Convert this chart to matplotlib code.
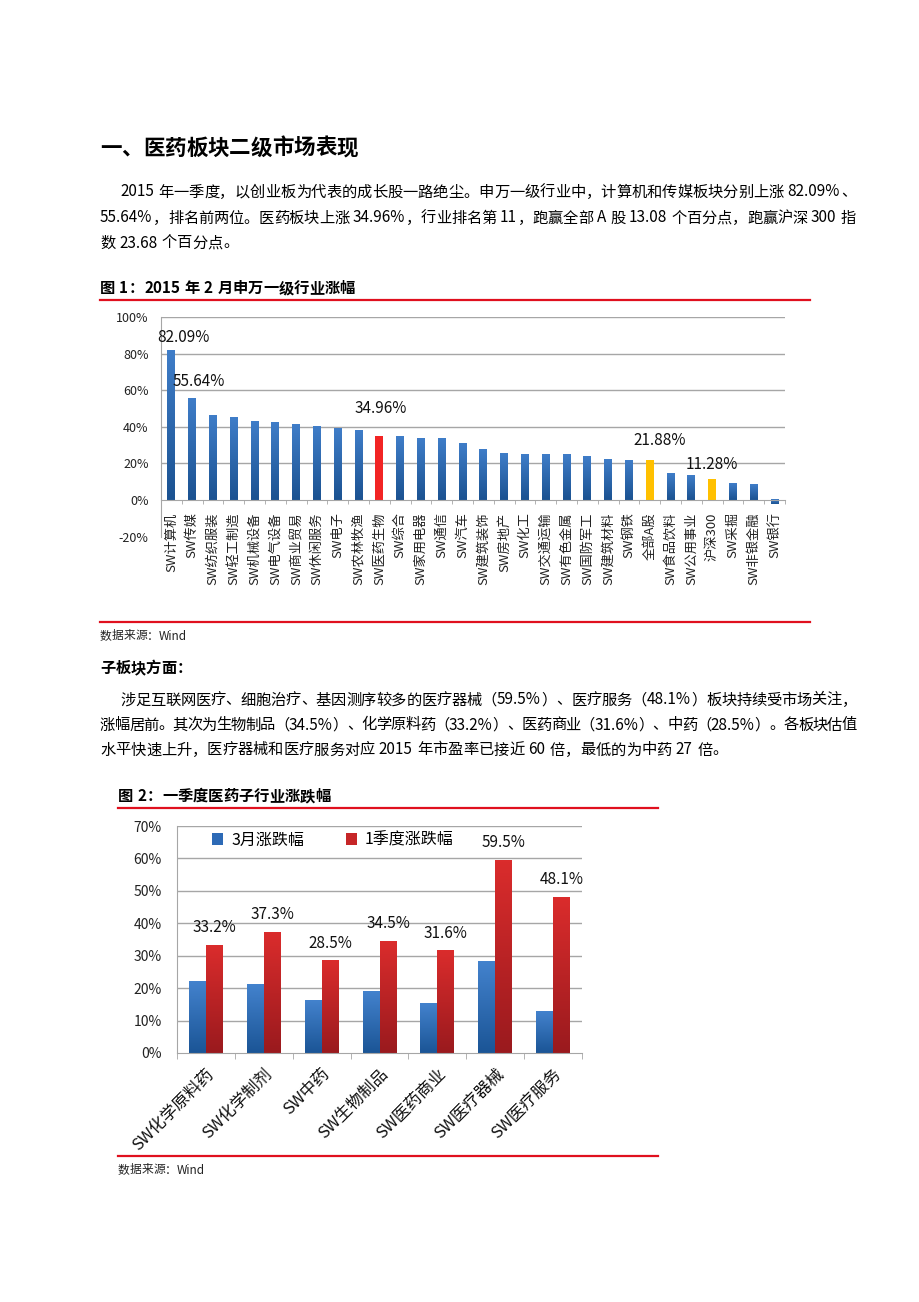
import matplotlib
matplotlib.use('Agg')
import matplotlib.pyplot as plt
import numpy as np
from matplotlib.font_manager import FontProperties
from matplotlib.colors import LinearSegmentedColormap

plt.rcParams['font.family'] = ['Noto Sans CJK SC', 'DejaVu Sans']

# ---------------- data ----------------
industries = ['SW计算机', 'SW传媒', 'SW纺织服装', 'SW轻工制造', 'SW机械设备', 'SW电气设备',
              'SW商业贸易', 'SW休闲服务', 'SW电子', 'SW农林牧渔', 'SW医药生物', 'SW综合',
              'SW家用电器', 'SW通信', 'SW汽车', 'SW建筑装饰', 'SW房地产', 'SW化工',
              'SW交通运输', 'SW有色金属', 'SW国防军工', 'SW建筑材料', 'SW钢铁', '全部A股',
              'SW食品饮料', 'SW公用事业', '沪深300', 'SW采掘', 'SW非银金融', 'SW银行']
feb_change = [82.09, 55.64, 46.5, 45.4, 43.2, 42.2, 41.6, 40.0, 38.9, 38.3, 34.96, 34.5,
              33.9, 33.5, 30.8, 27.5, 25.3, 24.8, 24.8, 24.8, 23.7, 22.0, 21.8, 21.88,
              14.3, 13.2, 11.28, 8.8, 8.3, -2.3]
red_items = ['SW医药生物']
gold_items = ['全部A股', '沪深300']
labeled_items = ['SW计算机', 'SW传媒', 'SW医药生物', '全部A股', '沪深300']
y1_ticks = [-20, 0, 20, 40, 60, 80, 100]

sub_industries = ['SW化学原料药', 'SW化学制剂', 'SW中药', 'SW生物制品', 'SW医药商业',
                  'SW医疗器械', 'SW医疗服务']
march_change = [22.1, 21.1, 16.1, 19.0, 15.2, 28.2, 12.7]
q1_change = [33.2, 37.3, 28.5, 34.5, 31.6, 59.5, 48.1]
series_names = ['3月涨跌幅', '1季度涨跌幅']
y2_ticks = [0, 10, 20, 30, 40, 50, 60, 70]

# ---------------- page ----------------
W, H = 920, 1302
fig = plt.figure(figsize=(W / 100, H / 100), dpi=100)
fig.patch.set_facecolor('white')
renderer = fig.canvas.get_renderer()
FAM = ['Noto Sans CJK SC', 'DejaVu Sans']


def fx(x):
    return x / W


def fy(y):
    return 1 - y / H


def tokenize(s):
    out, buf = [], ''
    for ch in s:
        if ch == ' ':
            if buf:
                out.append(buf)
                buf = ''
            out.append(' ')
        elif ord(ch) < 128:
            buf += ch
        else:
            if buf:
                out.append(buf)
                buf = ''
            out.append(ch)
    if buf:
        out.append(buf)
    return out


def draw_line(x0, y, s, size, x1=None, weight='normal', color='black'):
    prop = FontProperties(family=FAM, size=size, weight=weight)
    em = size * 100 / 72
    toks = tokenize(s)
    widths = []
    for t in toks:
        if t == ' ':
            widths.append(0.25 * em)
        elif ord(t[0]) >= 128:
            widths.append(em)
        else:
            w, h, d = renderer.get_text_width_height_descent(t, prop, ismath=False)
            widths.append(w + 0.05 * em)
    total = sum(widths)
    gap = 0.0
    if x1 is not None and len(toks) > 1:
        gap = (x1 - x0 - total) / (len(toks) - 1)
    x = x0
    for t, w in zip(toks, widths):
        if t != ' ':
            fig.text(fx(x), fy(y), t, fontproperties=prop, va='center', ha='left', color=color)
        x += w + gap


def red_rule(x0, x1, y):
    fig.add_artist(plt.Line2D([fx(x0), fx(x1)], [fy(y), fy(y)], color='#e0101e', lw=1.6))


def gradient_bars(ax, bars, top_color, bottom_color):
    cmap = LinearSegmentedColormap.from_list('g', [bottom_color, top_color])
    grad = np.linspace(0, 1, 64).reshape(-1, 1)
    for b in bars:
        x0, y0 = b.get_x(), b.get_y()
        w, h = b.get_width(), b.get_height()
        lo, hi = min(y0, y0 + h), max(y0, y0 + h)
        ax.imshow(grad, extent=[x0, x0 + w, lo, hi], origin='lower', aspect='auto',
                  cmap=cmap, zorder=3.5, interpolation='bilinear')


# heading
draw_line(100, 148, '一、医药板块二级市场表现', 15.5, weight='bold')

# paragraph 1
draw_line(120, 192, '2015 年一季度，以创业板为代表的成长股一路绝尘。申万一级行业中，计算机和传媒板块分别上涨 82.09%、', 11, x1=856)
draw_line(100, 218, '55.64%，排名前两位。医药板块上涨 34.96%，行业排名第 11，跑赢全部 A 股 13.08 个百分点，跑赢沪深 300 指', 11, x1=856)
draw_line(100, 243, '数 23.68 个百分点。', 11)

# figure 1 caption
draw_line(100, 288, '图 1：2015 年 2 月申万一级行业涨幅', 11, weight='bold')
red_rule(100, 810, 300)
red_rule(100, 810, 622)
draw_line(100, 636, '数据来源：Wind', 8.5, color='#222222')

# paragraph 2
draw_line(100, 668, '子板块方面：', 11, weight='bold')
draw_line(120, 700, '涉足互联网医疗、细胞治疗、基因测序较多的医疗器械（59.5%）、医疗服务（48.1%）板块持续受市场关注，', 11, x1=857)
draw_line(100, 725, '涨幅居前。其次为生物制品（34.5%）、化学原料药（33.2%）、医药商业（31.6%）、中药（28.5%）。各板块估值', 11, x1=857)
draw_line(100, 750, '水平快速上升，医疗器械和医疗服务对应 2015 年市盈率已接近 60 倍，最低的为中药 27 倍。', 11)

# figure 2 caption
draw_line(118, 796, '图 2：一季度医药子行业涨跌幅', 11, weight='bold')
red_rule(118, 658, 808)
red_rule(118, 658, 1156)
draw_line(118, 1170, '数据来源：Wind', 8.5, color='#222222')

# ---------------- chart 1 ----------------
ax1 = fig.add_axes([fx(161), fy(536.5), 624 / W, 219.2 / H])
n = len(industries)
xs = np.arange(n)
colors = []
for name in industries:
    if name in red_items:
        colors.append('#f22424')
    elif name in gold_items:
        colors.append('#ffc000')
    else:
        colors.append('#2c69b0')
bars1 = ax1.bar(xs, feb_change, width=0.38, color=colors, zorder=3)
blue_bars = [b for b, name in zip(bars1, industries)
             if name not in red_items and name not in gold_items]
gradient_bars(ax1, blue_bars, '#3f7dc8', '#1b5291')
ax1.set_xlim(-0.5, n - 0.5)
ax1.set_ylim(-20, 100)
ax1.set_aspect('auto')
ax1.set_yticks(y1_ticks)
ax1.set_yticklabels(['%d%%' % v for v in y1_ticks], fontsize=9, color='#222222')
for v in y1_ticks:
    if v > 0:
        ax1.axhline(v, color='#a6a6a6', lw=1.0, zorder=1)
for s in ['top', 'right']:
    ax1.spines[s].set_visible(False)
ax1.spines['left'].set_color('#a6a6a6')
ax1.spines['bottom'].set_position(('data', 0))
ax1.spines['bottom'].set_color('#a6a6a6')
ax1.spines['bottom'].set_zorder(4)
ax1.set_xticks(xs)
ax1.set_xticklabels(industries, rotation=90, fontsize=9.5, color='#222222', va='top', ha='center')
ax1.set_xticks(np.arange(-0.5, n, 1), minor=True)
ax1.tick_params(axis='x', which='major', length=0, pad=9)
ax1.tick_params(axis='x', which='minor', length=3, direction='out', color='#a6a6a6')
ax1.tick_params(axis='y', length=0, pad=9)
ax1.set_facecolor('white')
label_offsets = {'SW计算机': (9, 9), 'SW传媒': (5, 12), 'SW医药生物': (1, 20),
                 '全部A股': (7, 14), '沪深300': (0, 11)}
for i, name in enumerate(industries):
    if name in labeled_items:
        dx, dy = label_offsets[name]
        ax1.annotate('%.2f%%' % feb_change[i], (i, feb_change[i]), xytext=(dx, dy),
                     textcoords='offset points', ha='center', va='center', fontsize=11,
                     color='#111111', zorder=5)

# ---------------- chart 2 ----------------
ax2 = fig.add_axes([fx(177), fy(1053), 405 / W, 227 / H])
m = len(sub_industries)
xs2 = np.arange(m)
bw = 0.29
bars_m = ax2.bar(xs2 - 0.147, march_change, width=bw, color='#2d6ab6', zorder=3, label=series_names[0])
bars_q = ax2.bar(xs2 + 0.147, q1_change, width=bw, color='#c62628', zorder=3, label=series_names[1])
gradient_bars(ax2, bars_m, '#4382cd', '#1b5596')
gradient_bars(ax2, bars_q, '#da2c2c', '#9a1a1e')
ax2.set_xlim(-0.5, m - 0.5)
ax2.set_ylim(0, 70)
ax2.set_aspect('auto')
ax2.set_yticks(y2_ticks)
ax2.set_yticklabels(['%d%%' % v for v in y2_ticks], fontsize=10, color='#222222')
for v in y2_ticks:
    if v > 0:
        ax2.axhline(v, color='#a6a6a6', lw=1.0, zorder=1)
for s in ['top', 'right']:
    ax2.spines[s].set_visible(False)
ax2.spines['left'].set_color('#a6a6a6')
ax2.spines['bottom'].set_color('#a6a6a6')
ax2.spines['bottom'].set_zorder(4)
ax2.set_xticks(xs2)
ax2.set_xticklabels(sub_industries, rotation=45, rotation_mode='anchor', ha='right', va='top',
                    fontsize=12, color='#111111')
ax2.set_xticks(np.arange(-0.5, m, 1), minor=True)
ax2.tick_params(axis='x', which='major', length=0, pad=9)
ax2.tick_params(axis='x', which='minor', length=4, direction='out', color='#a6a6a6')
ax2.tick_params(axis='y', length=0, pad=11)
for i, v in enumerate(q1_change):
    ax2.annotate('%.1f%%' % v, (i + 0.147, v), xytext=(0, 12.5), textcoords='offset points',
                 ha='center', va='center', fontsize=11, color='#111111')
leg = ax2.legend(loc='center', bbox_to_anchor=(0.385, 0.938), ncol=2, frameon=False,
                 fontsize=11.5, handlelength=0.7, handleheight=0.7, columnspacing=2.6,
                 handletextpad=0.5)

fig.savefig('out.png', dpi=100, facecolor='white')
